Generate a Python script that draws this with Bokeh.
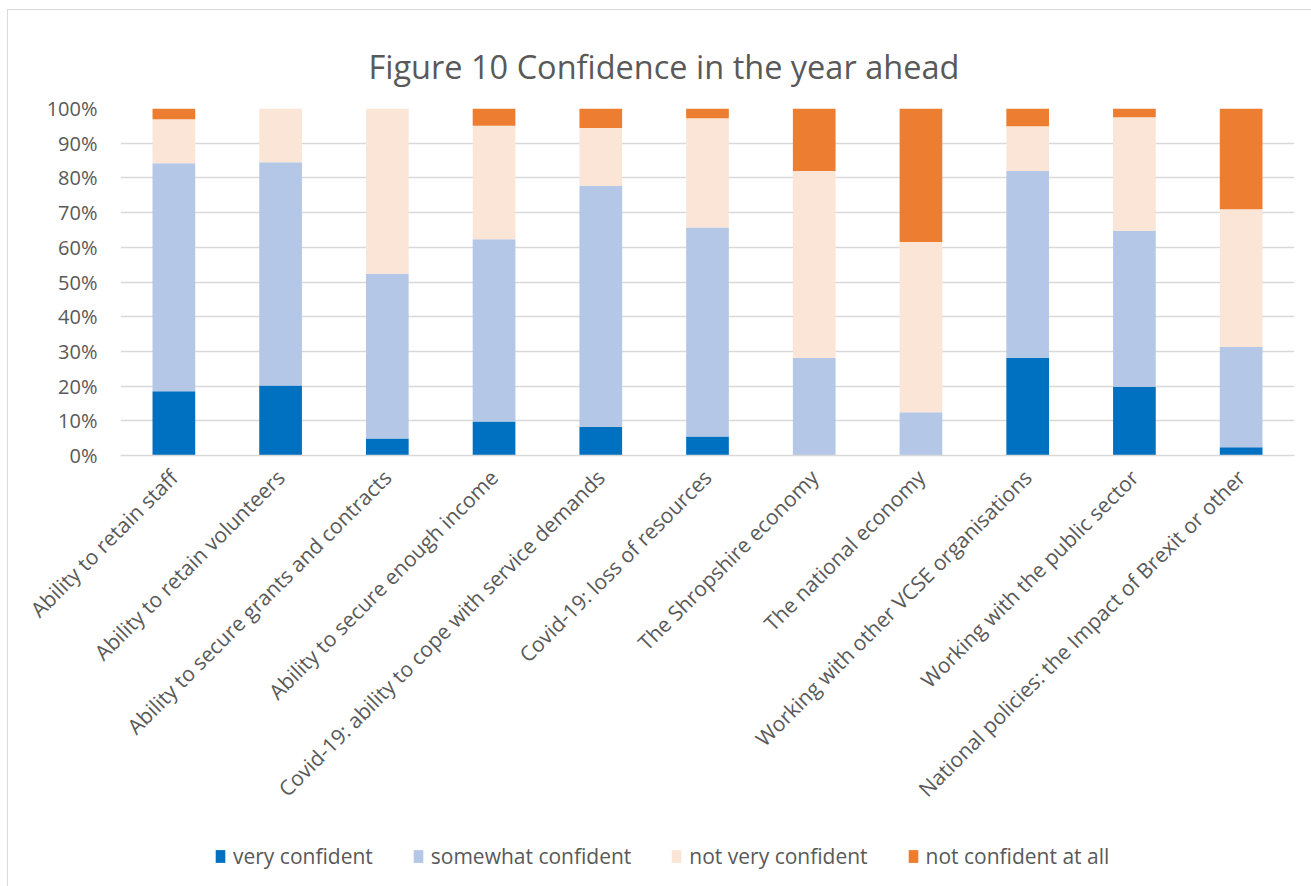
import math
from bokeh.plotting import figure
from bokeh.layouts import column
from bokeh.models import (Range1d, FixedTicker, NumeralTickFormatter, Legend, LegendItem, Title)
from bokeh.embed import file_html
from bokeh.resources import INLINE

categories = [
    "Ability to retain staff",
    "Ability to retain volunteers",
    "Ability to secure grants and contracts",
    "Ability to secure enough income",
    "Covid-19: ability to cope with service demands",
    "Covid-19: loss of resources",
    "The Shropshire economy",
    "The national economy",
    "Working with other VCSE organisations",
    "Working with the public sector",
    "National policies: the Impact of Brexit or other",
]
very_confident = [18.5, 20.2, 4.9, 9.8, 8.2, 5.5, 0.0, 0.0, 28.1, 19.8, 2.4]
somewhat_confident = [65.7, 64.3, 47.5, 52.5, 69.5, 60.2, 28.1, 12.5, 53.9, 45.0, 28.9]
not_very_confident = [12.7, 15.5, 47.6, 32.7, 16.7, 31.5, 53.9, 49.0, 12.9, 32.7, 39.7]
not_confident_at_all = [3.1, 0.0, 0.0, 5.0, 5.6, 2.8, 18.0, 38.5, 5.1, 2.5, 29.0]
series_names = ["very confident", "somewhat confident", "not very confident", "not confident at all"]
series_colors = ["#0070C0", "#B4C7E7", "#FBE5D6", "#ED7D31"]
y_ticks = [i / 10 for i in range(11)]

FONT = "Open Sans"
TXT = "#595959"

data = {"cat": categories}
keys = ["v", "s", "n", "a"]
for k, vals in zip(keys, [very_confident, somewhat_confident, not_very_confident, not_confident_at_all]):
    data[k] = [x / 100 for x in vals]

p = figure(x_range=categories, y_range=Range1d(0, 1), frame_width=1173, frame_height=346,
           output_backend="svg", toolbar_location=None,
           min_border_left=112, min_border_right=18, min_border_top=98, min_border_bottom=366)
p.styles = {"margin-left": "7px", "margin-top": "9px",
            "border-left": "1px solid #d9d9d9", "border-top": "1px solid #d9d9d9"}

p.title = Title(text="Figure 10 Confidence in the year ahead", align="left",
                text_font=FONT, text_font_size="32.5px", text_font_style="normal",
                text_color=TXT, standoff=36, offset=248, vertical_align="top")

renderers = p.vbar_stack(keys, x="cat", width=0.4, source=data, color=series_colors, line_color=None)

p.outline_line_color = None
p.xgrid.grid_line_color = None
p.ygrid.grid_line_color = "#d9d9d9"
p.ygrid.grid_line_width = 1.5
p.yaxis.ticker = FixedTicker(ticks=y_ticks)
p.yaxis.formatter = NumeralTickFormatter(format="0%")
p.yaxis.axis_line_color = None
p.yaxis.major_tick_line_color = None
p.yaxis.minor_tick_line_color = None
p.yaxis.major_label_standoff = 17
for ax in (p.xaxis, p.yaxis):
    ax.major_label_text_font = FONT
    ax.major_label_text_color = TXT
p.yaxis.major_label_text_font_size = "20px"
p.xaxis.major_label_text_font_size = "21px"
p.xaxis.axis_line_color = "#d9d9d9"
p.xaxis.axis_line_width = 1.5
p.xaxis.major_tick_line_color = None
p.xaxis.major_label_orientation = math.pi / 4
p.xaxis.major_label_standoff = 12

# legend in its own strip below the chart; swatches from zero-height bars of the same colours
lf = figure(width=1303, height=66, output_backend="svg", toolbar_location=None,
            x_axis_type=None, y_axis_type=None, min_border=0, min_border_left=20)
lf.styles = {"margin-left": "7px", "border-left": "1px solid #d9d9d9"}
lf.outline_line_color = None
lf.grid.visible = False
swatches = [lf.vbar(x=[0], top=[0], bottom=[0], width=0.4, color=c, line_color=None) for c in series_colors]
legend = Legend(items=[LegendItem(label=n, renderers=[r]) for n, r in zip(series_names, swatches)],
                orientation="horizontal", location=(94, 16),
                label_text_font=FONT, label_text_font_size="21px", label_text_color=TXT,
                glyph_width=12, glyph_height=16, label_standoff=7, spacing=39,
                border_line_color=None, background_fill_alpha=0, padding=4, margin=0)
lf.add_layout(legend)

layout = column(p, lf, spacing=0)
open("out.html", "w").write(file_html(layout, INLINE))
